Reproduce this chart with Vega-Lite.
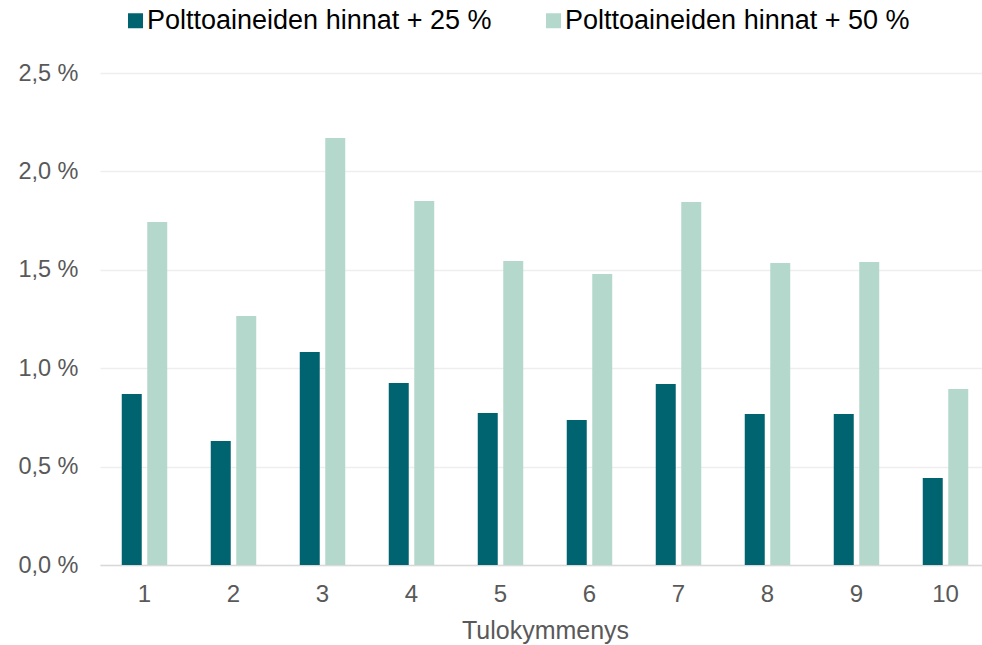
{
  "$schema": "https://vega.github.io/schema/vega-lite/v6.json",
  "autosize": {"type": "none"},
  "width": 882,
  "height": 492,
  "padding": {"left": 100, "top": 73, "right": 0, "bottom": 80},
  "background": "white",
  "config": {
    "font": "Liberation Sans",
    "view": {"stroke": null}
  },
  "data": {
    "values": [
      {"d": "1", "s": "Polttoaineiden hinnat + 25 %", "v": 0.869},
      {"d": "1", "s": "Polttoaineiden hinnat + 50 %", "v": 1.743},
      {"d": "2", "s": "Polttoaineiden hinnat + 25 %", "v": 0.630},
      {"d": "2", "s": "Polttoaineiden hinnat + 50 %", "v": 1.265},
      {"d": "3", "s": "Polttoaineiden hinnat + 25 %", "v": 1.082},
      {"d": "3", "s": "Polttoaineiden hinnat + 50 %", "v": 2.170},
      {"d": "4", "s": "Polttoaineiden hinnat + 25 %", "v": 0.925},
      {"d": "4", "s": "Polttoaineiden hinnat + 50 %", "v": 1.850},
      {"d": "5", "s": "Polttoaineiden hinnat + 25 %", "v": 0.772},
      {"d": "5", "s": "Polttoaineiden hinnat + 50 %", "v": 1.545},
      {"d": "6", "s": "Polttoaineiden hinnat + 25 %", "v": 0.737},
      {"d": "6", "s": "Polttoaineiden hinnat + 50 %", "v": 1.479},
      {"d": "7", "s": "Polttoaineiden hinnat + 25 %", "v": 0.920},
      {"d": "7", "s": "Polttoaineiden hinnat + 50 %", "v": 1.845},
      {"d": "8", "s": "Polttoaineiden hinnat + 25 %", "v": 0.767},
      {"d": "8", "s": "Polttoaineiden hinnat + 50 %", "v": 1.535},
      {"d": "9", "s": "Polttoaineiden hinnat + 25 %", "v": 0.767},
      {"d": "9", "s": "Polttoaineiden hinnat + 50 %", "v": 1.540},
      {"d": "10", "s": "Polttoaineiden hinnat + 25 %", "v": 0.442},
      {"d": "10", "s": "Polttoaineiden hinnat + 50 %", "v": 0.894}
    ]
  },
  "mark": {"type": "bar"},
  "encoding": {
    "x": {
      "field": "d",
      "type": "ordinal",
      "sort": ["1","2","3","4","5","6","7","8","9","10"],
      "scale": {"range": [0, 890], "paddingInner": 0, "paddingOuter": 0},
      "axis": {
        "title": "Tulokymmenys",
        "titleFont": "Liberation Sans",
        "titleFontSize": 25,
        "titleFontWeight": "normal",
        "titleColor": "#595959",
        "titlePadding": 12,
        "labelFontSize": 24,
        "labelColor": "#595959",
        "labelPadding": 17,
        "labelAngle": 0,
        "ticks": false,
        "domainColor": "#D9D9D9",
        "domainWidth": 1.5,
        "grid": false
      }
    },
    "xOffset": {
      "field": "s",
      "type": "nominal",
      "scale": {"paddingInner": 0.216, "paddingOuter": 0.853}
    },
    "y": {
      "field": "v",
      "type": "quantitative",
      "scale": {"domain": [0, 2.5], "nice": false},
      "axis": {
        "title": null,
        "values": [0, 0.5, 1, 1.5, 2, 2.5],
        "labelExpr": "replace(format(datum.value, '.1f'), '.', ',') + ' %'",
        "labelFontSize": 23.5,
        "labelColor": "#595959",
        "labelPadding": 22,
        "ticks": false,
        "domain": false,
        "gridColor": "#EEEEEE",
        "gridWidth": 1.3
      }
    },
    "color": {
      "field": "s",
      "type": "nominal",
      "scale": {
        "domain": ["Polttoaineiden hinnat + 25 %", "Polttoaineiden hinnat + 50 %"],
        "range": ["#006370", "#B4D8CC"]
      },
      "legend": {
        "title": null,
        "orient": "none",
        "legendX": 22,
        "legendY": -66,
        "direction": "horizontal",
        "symbolType": "square",
        "symbolSize": 225,
        "symbolStrokeWidth": 0,
        "labelFontSize": 27,
        "labelColor": "#000000",
        "labelOffset": -2,
        "columnPadding": 48,
        "labelLimit": 500
      }
    }
  }
}
